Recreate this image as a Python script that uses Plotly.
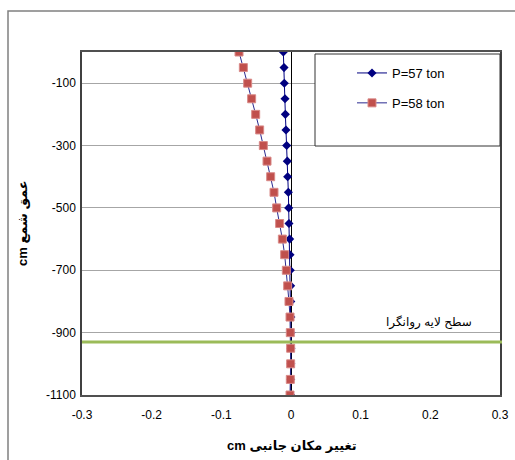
import plotly.graph_objects as go

depth = [0, -50, -100, -150, -200, -250, -300, -350, -400, -450, -500, -550,
         -600, -650, -700, -750, -800, -850, -900, -950, -1000, -1050, -1100]
p57 = [-0.011, -0.010, -0.0096, -0.0086, -0.0081, -0.0072, -0.0062, -0.0053,
       -0.0048, -0.0038, -0.0033, -0.0029, -0.0019, -0.0014, -0.0010, -0.0005,
       -0.0003, -0.0002, -0.0001, -0.0001, -0.0002, -0.0004, -0.0006]
p58 = [-0.0746, -0.0684, -0.0622, -0.0565, -0.0507, -0.0450, -0.0397, -0.0344,
       -0.0292, -0.0244, -0.0206, -0.0163, -0.0124, -0.0091, -0.0067, -0.0048,
       -0.0029, -0.0014, -0.0010, -0.0005, -0.0005, -0.0010, -0.0014]
layer_depth = -930
x_ticks = [-0.3, -0.2, -0.1, 0, 0.1, 0.2, 0.3]
x_tick_text = ["-0.3", "-0.2", "-0.1", "0", "0.1", "0.2", "0.3"]
y_ticks = [-100, -300, -500, -700, -900, -1100]
y_tick_text = ["-100", "-300", "-500", "-700", "-900", "-1100"]

FONT = "Liberation Sans, Arial, DejaVu Sans, sans-serif"
L, R, T, B = 82, 500, 52, 395  # plot area in pixels


def px2x(px):
    return (px - L) / (R - L)


def py2y(py):
    return 1 - (py - T) / (B - T)


fig = go.Figure()
fig.add_trace(go.Scatter(
    x=p57, y=depth, name="P=57 ton", mode="lines+markers",
    line=dict(color="#000080", width=1),
    marker=dict(symbol="diamond", size=7, color="#000080"),
    legendgroup="a"))
fig.add_trace(go.Scatter(
    x=p58, y=depth, name="P=58 ton", mode="lines+markers",
    line=dict(color="#2a2a90", width=1),
    marker=dict(symbol="square", size=8, color="#C0504D",
                line=dict(color="#D98A88", width=1)),
    legendgroup="b"))

shapes = [
    dict(type="line", xref="paper", yref="y", x0=0, x1=px2x(502),
         y0=layer_depth, y1=layer_depth,
         line=dict(color="#9BBB59", width=3), layer="above"),
    dict(type="rect", xref="paper", yref="paper",
         x0=px2x(315), x1=1.0, y0=py2y(146), y1=py2y(54),
         line=dict(color="#333333", width=1), fillcolor="white", layer="above"),
    dict(type="rect", xref="paper", yref="paper",
         x0=px2x(8), x1=px2x(560), y0=py2y(520), y1=py2y(11),
         line=dict(color="#808080", width=1.5), layer="below"),
]

annotations = [
    dict(text="سطح لایه روانگرا", xref="paper", yref="paper",
         x=px2x(474), y=py2y(322), xanchor="right", yanchor="middle",
         showarrow=False, font=dict(family=FONT, size=12, color="black")),
    dict(text="<b>cm تغییر مکان جانبی</b>", xref="paper", yref="paper",
         x=px2x(292), y=py2y(446), xanchor="center", yanchor="middle",
         showarrow=False, font=dict(family=FONT, size=13, color="black")),
    dict(text="<b>cm عمق شمع</b>", xref="paper", yref="paper",
         x=px2x(23), y=py2y(223), xanchor="center", yanchor="middle",
         textangle=-90, showarrow=False,
         font=dict(family=FONT, size=13, color="black")),
]

fig.update_layout(
    width=515, height=460,
    margin=dict(l=L, r=515 - R, t=T, b=460 - B),
    paper_bgcolor="white", plot_bgcolor="white",
    font=dict(family=FONT, size=12, color="black"),
    showlegend=True,
    legend=dict(x=px2x(352), xanchor="left", y=py2y(58), yanchor="top",
                bgcolor="rgba(0,0,0,0)", borderwidth=0,
                font=dict(family=FONT, size=13, color="black"),
                tracegroupgap=10, itemwidth=30),
    shapes=shapes,
    annotations=annotations,
    xaxis=dict(range=[-0.3, 0.3], tickvals=x_ticks, ticktext=x_tick_text,
               showgrid=False, zeroline=True, zerolinecolor="black", zerolinewidth=1.2,
               showline=True, linecolor="#505050", linewidth=1.5, mirror=True,
               ticks="", ticklabelstandoff=8, automargin=False),
    yaxis=dict(range=[-1100, 0], tickvals=y_ticks, ticktext=y_tick_text,
               showgrid=True, gridcolor="#A6A6A6", gridwidth=1,
               zeroline=False,
               showline=True, linecolor="#404040", linewidth=1.5, mirror=True,
               ticks="", ticklabelstandoff=2, automargin=False),
)

fig.write_html("out.html")
